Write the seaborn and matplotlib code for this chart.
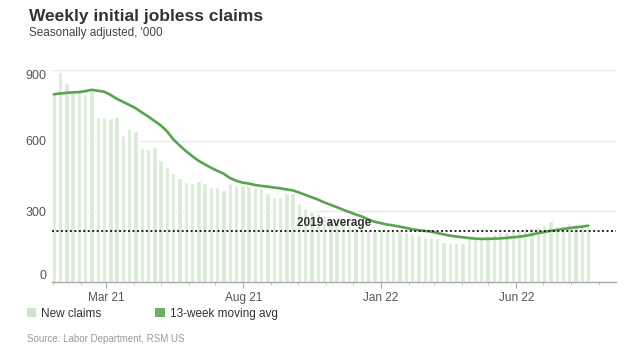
import numpy as np
import pandas as pd
import matplotlib
matplotlib.use("Agg")
import matplotlib.pyplot as plt
import matplotlib.dates as mdates
from matplotlib.patches import Patch
import seaborn as sns

# weekly data, weeks ending Saturday, first week 2 Jan 2021
first_week = "2021-01-02"
n_weeks = 86

new_claims = [
    801, 893, 843, 805, 805, 800, 815, 702, 702, 695,
    702, 624, 652, 640, 570, 565, 573, 518, 489, 464,
    440, 424, 419, 429, 422, 405, 405, 390, 422, 412,
    412, 407, 398, 398, 379, 362, 362, 376, 376, 334,
    313, 303, 292, 280, 270, 265, 255, 245, 235, 225,
    220, 215, 225, 220, 218, 215, 212, 205, 200, 192,
    190, 185, 171, 164, 166, 166, 185, 190, 192, 200,
    205, 212, 214, 220, 222, 228, 228, 235, 242, 258,
    236, 238, 250, 246, 238, 232,
]
moving_avg = [
    797, 800, 803, 805, 806, 810, 816, 812, 808, 795,
    778, 765, 752, 738, 720, 703, 684, 665, 640, 606,
    580, 556, 535, 515, 500, 485, 472, 460, 442, 430,
    422, 418, 412, 408, 405, 401, 398, 393, 389, 380,
    370, 360, 350, 338, 328, 318, 307, 297, 287, 278,
    266, 256, 250, 244, 240, 235, 230, 224, 220, 217,
    214, 208, 202, 197, 193, 190, 187, 184, 183, 183,
    184, 185, 187, 190, 192, 196, 201, 207, 212, 217,
    221, 225, 229, 232, 235, 239,
]
avg_2019 = 218

tick_dates = ["2021-03-01", "2021-08-01", "2022-01-01", "2022-06-01"]
y_ticks = [0, 300, 600, 900]

weeks = pd.date_range(first_week, periods=n_weeks, freq="7D")
df = pd.DataFrame({"week": weeks, "claims": new_claims, "avg": moving_avg})

sns.set_theme(style="white")
plt.rcParams["font.family"] = ["Liberation Sans", "DejaVu Sans"]

bar_color = "#d9ebd5"
line_color = "#58a44f"
text_dark = "#333333"
text_grey = "#555555"

fig = plt.figure(figsize=(6.3, 3.57), dpi=100)
ax = fig.add_axes([52 / 630, 1 - 282 / 357, (616 - 52) / 630, (282 - 70) / 357])

sns.barplot(data=df, x="week", y="claims", native_scale=True,
            color=bar_color, saturation=1, width=0.7, ax=ax, zorder=2)
sns.lineplot(data=df, x="week", y="avg", color=line_color, linewidth=1.9,
             ax=ax, zorder=4)
ax.axhline(avg_2019, color="#222222", linestyle=(0, (1, 1.3)), linewidth=1.4, zorder=5)
ax.text(pd.Timestamp("2021-11-10"), avg_2019 + 9, "2019 average", ha="center",
        va="bottom", fontsize=8.5, fontweight="bold", color=text_dark, zorder=6)

ax.set_xlim(mdates.date2num(pd.Timestamp("2020-12-31")),
            mdates.date2num(pd.Timestamp("2022-09-20")))
ax.set_ylim(0, 900)
ax.set_yticks(y_ticks)
ax.set_xticks([mdates.date2num(pd.Timestamp(d)) for d in tick_dates])
ax.xaxis.set_major_formatter(mdates.DateFormatter("%b %y"))
ax.xaxis.set_minor_locator(mdates.MonthLocator())
ax.set_xlabel("")
ax.set_ylabel("")

ax.yaxis.grid(True, color="#e9e9e9", linewidth=1)
ax.set_axisbelow(True)
for side in ["top", "right", "left"]:
    ax.spines[side].set_visible(False)
ax.spines["bottom"].set_color("#a8a8a8")
ax.spines["bottom"].set_linewidth(1)

ax.tick_params(axis="x", which="major", length=4, width=0.8, color="#a8a8a8",
               labelsize=8.5, labelcolor=text_grey, pad=3, bottom=True)
ax.tick_params(axis="x", which="minor", length=2.5, width=0.6, color="#bbbbbb", bottom=True)
ax.tick_params(axis="y", length=0, labelsize=9, labelcolor=text_grey, pad=4)
ylabels = ax.get_yticklabels()
ylabels[0].set_verticalalignment("bottom")
ylabels[-1].set_verticalalignment("top")

fig.text(29 / 630, 1 - 17 / 357, "Weekly initial jobless claims", fontsize=12.5,
         fontweight="bold", color=text_dark, va="center", ha="left")
fig.text(29 / 630, 1 - 33 / 357, "Seasonally adjusted, '000", fontsize=8.5,
         color="#444444", va="center", ha="left")

handles = [Patch(facecolor="#cfe5cb", edgecolor="none", label="New claims"),
           Patch(facecolor="#6fb067", edgecolor="none", label="13-week moving avg")]
fig.legend(handles=handles, loc="center left", bbox_to_anchor=(22 / 630, 1 - 314 / 357),
           ncol=2, frameon=False, fontsize=8.5, handlelength=0.8, handleheight=0.8,
           handletextpad=0.4, columnspacing=4.6, labelcolor=text_dark, borderaxespad=0)

fig.text(27 / 630, 1 - 339 / 357, "Source: Labor Department, RSM US", fontsize=7,
         color="#9a9a9a", va="center", ha="left")

fig.savefig("out.png", dpi=100)
